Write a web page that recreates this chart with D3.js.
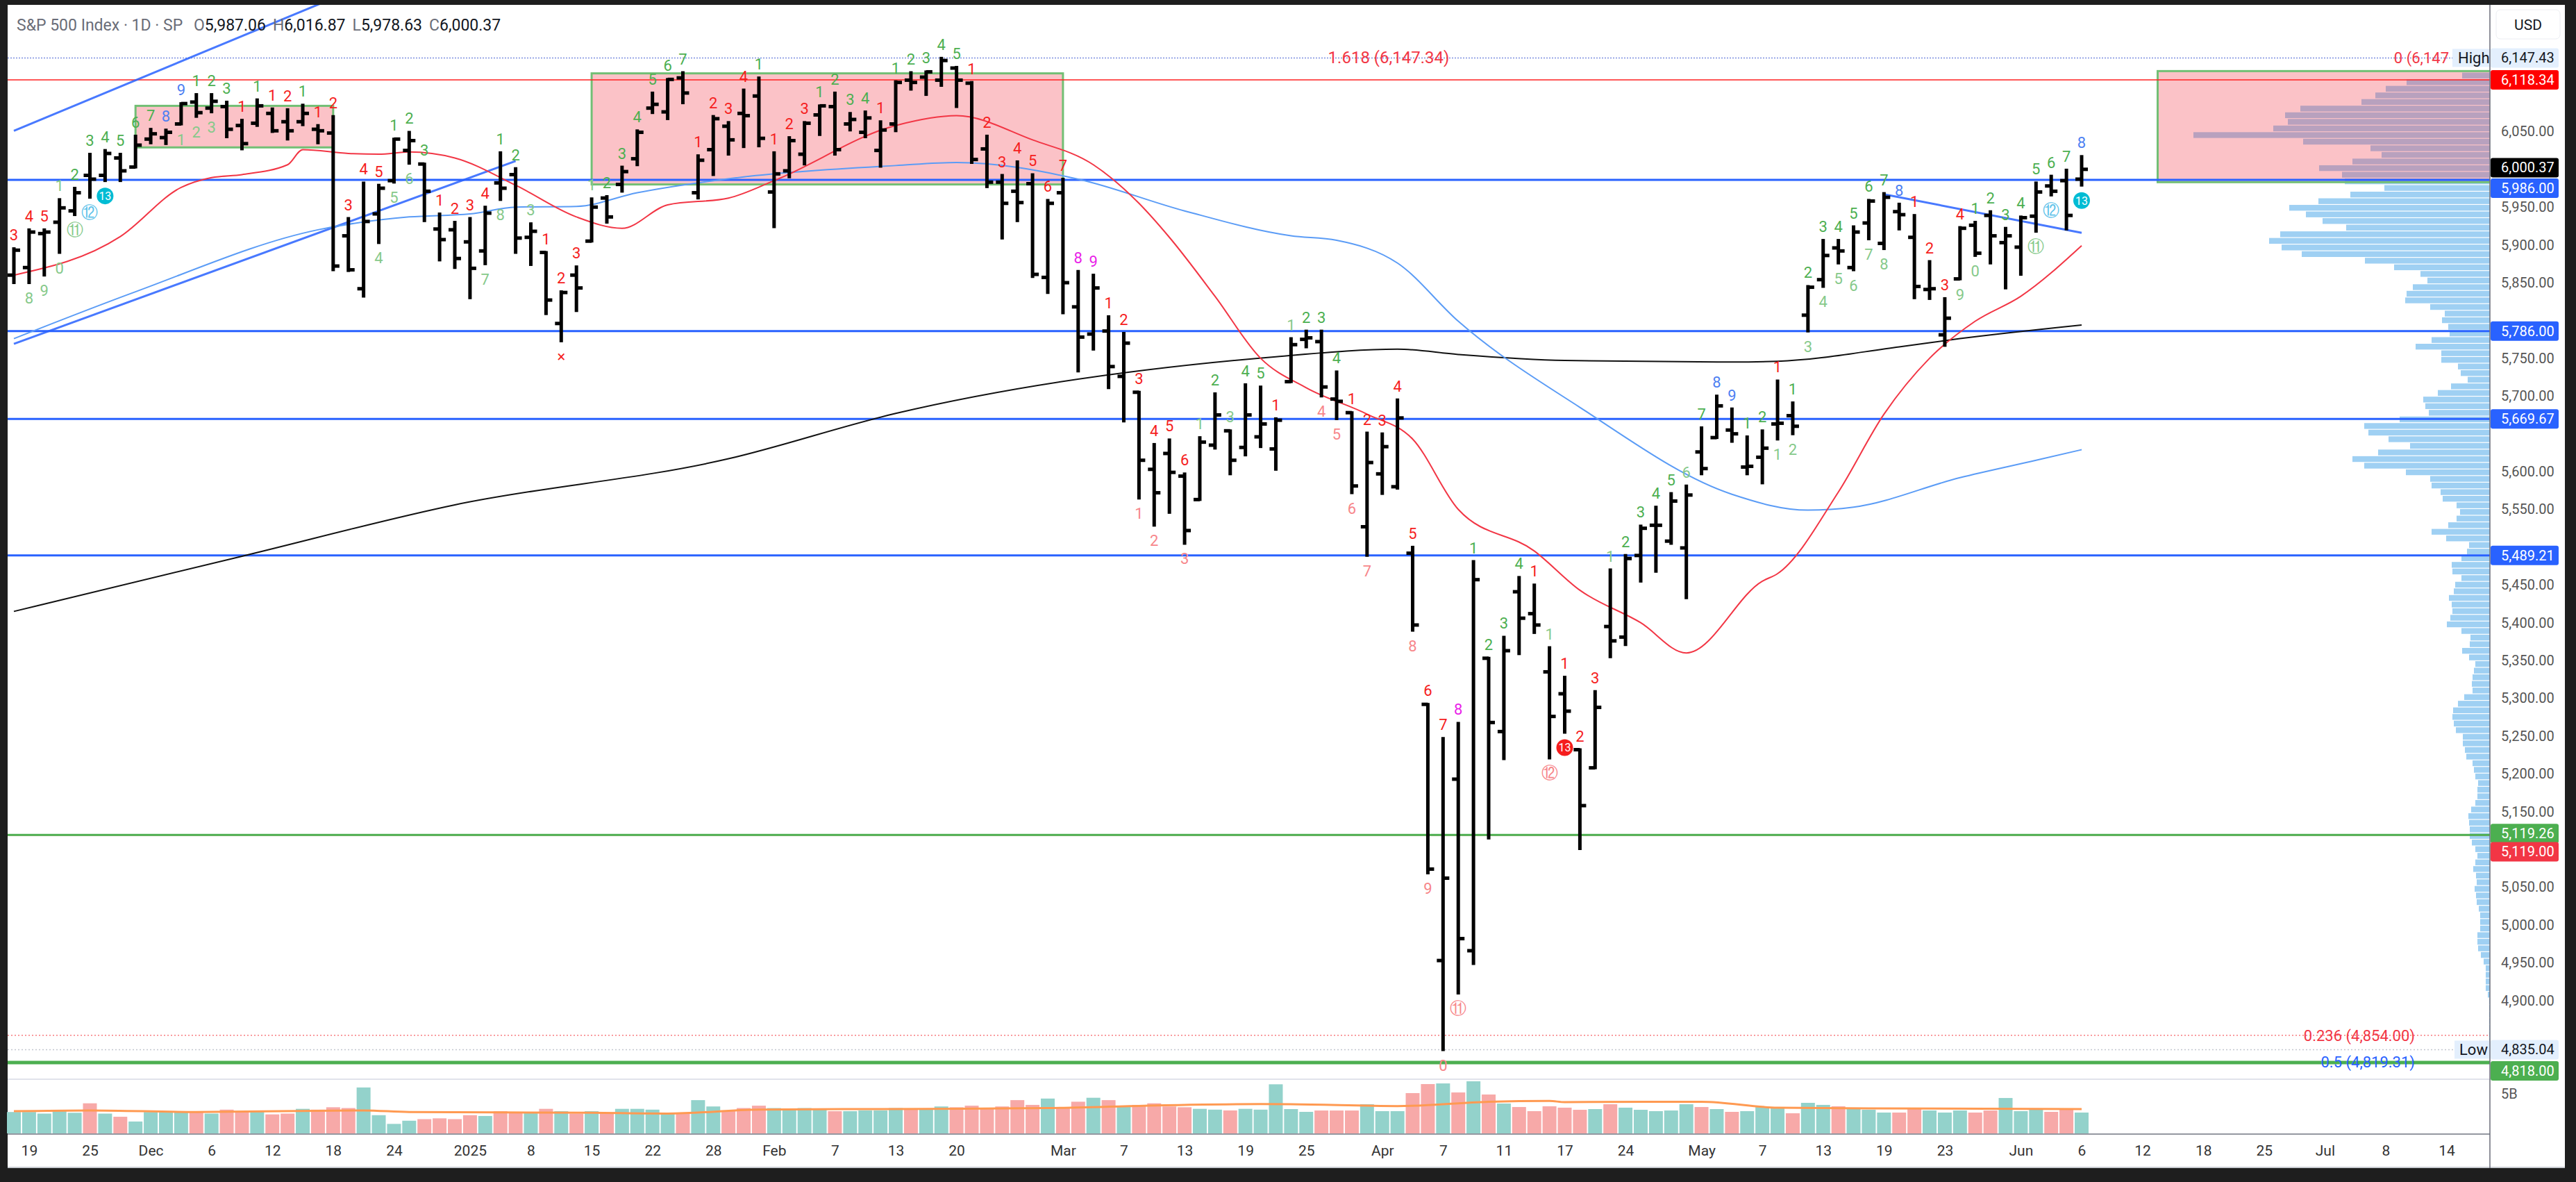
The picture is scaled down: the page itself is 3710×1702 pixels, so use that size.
<!doctype html>
<html lang="en">
<head>
<meta charset="utf-8">
<title>S&amp;P 500 Index · 1D</title>
<style>
  html, body { margin: 0; padding: 0; background: #1e1e1e; }
  svg { display: block; }
  text { font-family: Roboto, "Noto Sans", sans-serif; }
</style>
</head>
<body>
<script src="https://cdn.jsdelivr.net/npm/d3@7"></script>
<script>

// ---- data ----
var tradeDays = {
  "2024-11": [18,19,20,21,22,25,26,27,29],
  "2024-12": [2,3,4,5,6,9,10,11,12,13,16,17,18,19,20,23,24,26,27,30,31],
  "2025-01": [2,3,6,7,8,10,13,14,15,16,17,21,22,23,24,27,28,29,30,31],
  "2025-02": [3,4,5,6,7,10,11,12,13,14,18,19,20,21,24,25,26,27,28],
  "2025-03": [3,4,5,6,7,10,11,12,13,14,17,18,19,20,21,24,25,26,27,28,31],
  "2025-04": [1,2,3,4,7,8,9,10,11,14,15,16,17,21,22,23,24,25,28,29,30],
  "2025-05": [1,2,5,6,7,8,9,12,13,14,15,16,19,20,21,22,23,27,28,29,30],
  "2025-06": [2,3,4,5,6]
};
var futureDays = {
  "2025-06": [9,10,11,12,13,16,17,18,20,23,24,25,26,27,30],
  "2025-07": [1,2,3,7,8,9,10,11,14,15,16,17,18,21,22,23,24,25]
};

var opens = [
  5860,5870,5915,5930,5945,5992,5992,6015,6003,
  6040,6042,6060,6089,6081,6083,6058,6061,6074,6063,6063,6053,6048,5912,5842,5941,5985,6025,6007,5921,5920,
  5904,5892,5982,5993,5910,5890,5796,5860,5905,5962,5980,6014,6081,6076,6121,5969,6026,6057,6074,6097,
  5970,5998,6020,6072,6083,6060,6049,6025,6060,6118,6122,6118,6134,6114,6027,5983,5971,5981,5857,
  5969,5818,5782,5786,5726,5705,5603,5624,5594,5563,5635,5654,5632,5646,5630,5719,5775,5772,5696,5678,5527,
  5597,5580,5492,5292,4953,5193,4966,5353,5256,5441,5412,5335,5306,5232,5208,5395,5381,5489,5529,5508,5499,
  5626,5645,5655,5606,5619,5663,5674,5807,5854,5896,5870,5929,5902,5944,5910,5841,5781,5855,5926,5939,5903,
  5897,5938,5978,5985,5987
];
var highs = [
  5895,5920,5920,5960,5975,6020,6025,6020,6044,
  6053,6052,6087,6099,6099,6089,6065,6092,6080,6079,6085,6058,6070,5935,5982,5979,6040,6049,6007,5941,5930,
  5935,5950,6022,6001,5928,5890,5838,5871,5961,5964,6003,6051,6101,6119,6128,6018,6070,6062,6105,6121,
  6022,6042,6062,6084,6101,6074,6076,6063,6116,6128,6129,6147,6135,6115,6044,5992,6010,5993,5959,
  5987,5865,5860,5805,5783,5705,5636,5642,5597,5645,5703,5654,5715,5712,5670,5776,5786,5786,5732,5678,5651,
  5650,5695,5500,5292,5247,5267,5481,5353,5381,5460,5450,5367,5328,5232,5309,5470,5489,5528,5553,5571,5581,
  5658,5700,5683,5646,5654,5720,5691,5845,5906,5906,5924,5959,5968,5954,5939,5878,5829,5923,5930,5944,5922,
  5937,5982,5991,5999,6017
];
var lows = [
  5850,5850,5860,5890,5940,5963,5985,5985,6003,
  6035,6034,6060,6070,6076,6043,6027,6058,6050,6040,6059,6035,5867,5866,5832,5903,5983,6008,5932,5880,5870,
  5830,5875,5960,5890,5874,5809,5773,5813,5905,5930,5971,6006,6075,6067,6088,5962,5993,6020,6030,6031,
  5924,5990,6007,6046,6020,6052,6043,6004,6051,6106,6099,6111,6083,6009,5977,5909,5932,5858,5837,
  5810,5733,5762,5711,5667,5565,5529,5546,5505,5563,5631,5597,5622,5633,5603,5719,5765,5700,5670,5572,5489,
  5571,5578,5390,5069,4835,4910,4949,5115,5220,5359,5387,5221,5255,5101,5208,5355,5371,5455,5468,5505,5433,
  5597,5645,5640,5597,5585,5643,5650,5786,5845,5876,5867,5908,5895,5921,5830,5829,5767,5855,5886,5876,5843,
  5861,5918,5966,5921,5979
];
var closes = [
  5893,5917,5917,5949,5969,5987,6021,5998,6032,
  6047,6049,6087,6075,6090,6053,6034,6084,6051,6051,6074,6051,5872,5867,5931,5975,6040,6038,5971,5907,5882,
  5869,5942,5975,5909,5918,5827,5837,5843,5950,5937,5997,6049,6086,6119,6101,6012,6067,6039,6071,6041,
  5994,6038,6061,6084,6026,6066,6068,6052,6115,6115,6129,6144,6118,6013,5983,5955,5956,5861,5955,
  5850,5778,5843,5739,5770,5615,5572,5599,5522,5639,5675,5615,5675,5663,5668,5768,5777,5712,5693,5581,5612,
  5633,5671,5397,5074,5062,4982,5457,5268,5363,5406,5397,5276,5283,5158,5288,5376,5485,5525,5529,5561,5569,
  5604,5687,5650,5607,5631,5664,5660,5844,5886,5892,5917,5958,5963,5940,5845,5842,5803,5922,5889,5912,5912,
  5936,5970,5971,5939,6000
];
// volume, billions
var volumes = [
  2.7,2.7,2.5,2.9,2.6,3.8,2.5,2.1,1.5,
  2.7,2.7,2.7,2.7,2.5,3.0,2.8,2.8,2.4,2.5,3.1,3.0,3.3,3.2,5.8,2.3,1.2,1.6,1.8,1.9,1.8,
  2.3,2.2,2.8,2.7,2.6,3.1,2.8,2.5,2.8,2.6,3.1,3.1,3.0,2.6,2.5,4.2,3.4,2.9,3.2,3.5,
  3.2,3.1,3.2,3.1,2.8,2.8,2.9,2.9,3.2,3.1,3.1,3.4,3.3,3.5,3.2,3.4,4.2,3.6,4.4,
  3.2,4.0,4.5,4.2,3.4,3.6,3.8,3.4,3.3,3.1,3.0,2.9,3.1,3.0,6.2,3.07,2.72,2.89,2.89,2.89,3.68,
  2.81,2.81,5.09,6.23,6.31,5.17,6.58,4.91,3.77,3.33,2.81,3.42,3.25,2.98,3.07,3.68,3.25,2.98,2.81,2.89,3.68,
  3.33,3.07,2.72,2.81,3.33,3.25,2.54,3.86,3.6,3.42,3.16,2.98,2.63,2.63,3.16,2.89,2.63,2.89,2.63,2.89,4.47,
  2.81,3.07,2.72,3.07,2.63
];
var volumeMA = [
  ["2024-11-18",2.8],["2024-11-25",2.9],["2024-12-05",2.7],["2024-12-20",2.9],["2024-12-26",2.7],
  ["2025-01-15",2.6],["2025-01-23",2.5],["2025-01-31",3.0],["2025-02-18",3.1],["2025-02-28",3.2],
  ["2025-03-13",3.6],["2025-03-20",3.7],["2025-03-24",3.68],["2025-04-02",3.45],["2025-04-10",4.0],
  ["2025-04-16",4.1],["2025-04-17",3.95],["2025-05-01",4.0],["2025-05-08",3.25],["2025-05-16",3.16],
  ["2025-06-06",3.07]
];

// moving averages (knots)
var ma20 = [
  ["2024-11-18",5860],["2024-11-27",5911],["2024-12-04",5976],["2024-12-06",5989],["2024-12-10",5993],
  ["2024-12-13",6006],["2024-12-16",6026],["2024-12-19",6021],["2024-12-23",6020],["2024-12-26",6023],
  ["2024-12-31",6015],["2025-01-07",5979],["2025-01-14",5937],["2025-01-17",5922],["2025-01-23",5953],
  ["2025-01-29",5962],["2025-02-03",5985],["2025-02-13",6058],["2025-02-20",6071],["2025-02-27",6039],
  ["2025-03-05",6006],["2025-03-10",5955],["2025-03-12",5910],["2025-03-17",5832],["2025-03-20",5750],
  ["2025-03-25",5711],["2025-03-31",5676],["2025-04-03",5643],["2025-04-08",5550],["2025-04-15",5495],
  ["2025-04-21",5443],["2025-04-25",5400],["2025-04-30",5360],["2025-05-07",5455],["2025-05-08",5465],
  ["2025-05-14",5573],["2025-05-19",5676],["2025-05-22",5750],["2025-05-28",5799],["2025-06-02",5832],
  ["2025-06-06",5899]
];
var ma50 = [
  ["2024-11-18",5776],["2024-11-29",5838],["2024-12-17",5920],["2024-12-26",5937],["2025-01-02",5941],
  ["2025-01-07",5950],["2025-01-14",5951],["2025-01-21",5969],["2025-01-30",5990],["2025-02-13",6005],
  ["2025-02-20",6009],["2025-03-04",5987],["2025-03-13",5945],["2025-03-24",5912],["2025-03-27",5906],
  ["2025-04-02",5876],["2025-04-08",5799],["2025-04-21",5685],["2025-05-05",5570],["2025-05-12",5549],
  ["2025-05-15",5553],["2025-05-27",5592],["2025-06-03",5615],["2025-06-06",5629]
];
var ma200 = [
  ["2024-11-18",5415],["2024-12-10",5488],["2024-12-31",5556],["2025-01-29",5617],["2025-02-13",5677],
  ["2025-03-21",5752],["2025-04-02",5762],["2025-04-08",5755],["2025-04-17",5747],["2025-05-05",5745],
  ["2025-05-08",5746],["2025-05-20",5765],["2025-05-27",5776],["2025-06-06",5794]
];

// TD sequential counts per bar, above / below ("" = none); last char = colour
var tdUp = [
  "3R","4R","5R","1g","2G","3G","4G","5G","6G",
  "7G","8B","9B","1G","2G","3G","1R","1G","1R","2R","1G","1R","2R","3R","4R","5R","1G","2G","3G","1R","2R",
  "3R","4R","1G","2G","3g","1R","2R","3R","1g","2G","3G","4G","5G","6G","7G","1R","2R","3R","4R","1G",
  "1R","2R","3R","1G","2G","3G","4G","1R","1G","2G","3G","4G","5G","1R","2R","3R","4R","5R","6R",
  "7R","8M","9M","1R","2R","3R","4R","5R","6R","1g","2G","3g","4G","5G","1R","1g","2G","3G","4G","1R","2R",
  "3R","4R","5R","6R","7R","8M","1G","2G","3G","4G","1R","1g","1R","2R","3R","1g","2G","3G","4G","5G","6g",
  "7G","8B","9B","1G","2G","1R","1G","2G","3G","4G","5G","6G","7G","8B","1R","2R","3R","4R","1G","2G","3G",
  "4G","5G","6G","7G","8B"
];
var tdDown = [
  "","8g","9g","0g","11g","12b","13C","","",
  "","","1g","2g","3g","","","","","","","","","","","4g","5g","6g","","","",
  "","7g","8g","","","","xR","","","","","","","","","","","","","",
  "","","","","","","","","","","","","","","","","","","",
  "","","","","","1r","2r","","3r","","","","","","","","","4r","5r","6r","7r",
  "","","8r","9r","0r","11r","","","","","","12r","13F","","","","","","","","",
  "","","","","","1g","2g","3g","4g","5g","6g","7g","8g","","","","","9g","0g","","",
  "","11g","12b","","13C"
];

// horizontal levels (drawn in this order)
var levelValues = [5119, 5986, 5786, 5669.67, 5489.21, 5119.26, 4818, 6118.34, 6147.43, 4854, 4835.04];
var levelKinds  = ["red","blue","blue","blue","blue","green","greenThick","red","fibDot","redDot","grayDot"];

// trend lines [date1, price1, date2, price2]
var trendLines = [
  ["2024-11-18",5769,"2025-01-07",6011],
  ["2024-11-18",6051,"2024-12-20",6243],
  ["2025-05-19",5967,"2025-06-06",5916]
];
// zones [from, to, top, bottom]
var zones = [
  ["2024-11-29","2024-12-18",6084,6029],
  ["2025-01-15","2025-03-03",6127,5980]
];
var zoneRight = ["2025-06-13","2025-07-25",6130,5983];

// volume profile rows, from the top down
var profileTop = 6124, profileStep = 8.75;
var profileWidths = [
  40,120,150,165,185,
  273,295,291,312,427,269,172,156,198,246,213,209,152,201,247,289,265,241,207,302,
  318,300,271,180,138,100,90,111,120,122,86,65,69,60,58,84,107,70,70,46,42,32,56,75,96,
  93,88,130,181,175,146,115,161,198,181,121,86,84,71,68,48,43,48,60,84,63,30,33,41,55,54,41,50,
  52,59,55,54,57,62,41,28,29,40,30,21,23,25,26,25,37,46,53,54,52,49,39,39,36,34,25,23,21,17,
  18,18,21,27,31,30,29,29,26,21,18,21,24,20,19,22,20,19,16,14,14,14,18,18,17,13,9,6,6,6,6,3,
  1,1,1,1,1,1,1,1
];

// axis
var priceTicks = d3.range(4850, 6101, 50);
var dateTickDays = ["2024-11-19","2024-11-25","2024-12-02","2024-12-06","2024-12-12","2024-12-18","2024-12-24",
  "2025-01-02","2025-01-08","2025-01-15","2025-01-22","2025-01-28","2025-02-03","2025-02-07","2025-02-13","2025-02-20",
  "2025-03-03","2025-03-07","2025-03-13","2025-03-19","2025-03-25","2025-04-01","2025-04-07","2025-04-11","2025-04-17",
  "2025-04-24","2025-05-01","2025-05-07","2025-05-13","2025-05-19","2025-05-23","2025-06-02","2025-06-06",
  "2025-06-12","2025-06-18","2025-06-25","2025-07-01","2025-07-08","2025-07-14"];
var dateTickLabels = ["19","25","Dec","6","12","18","24","2025","8","15","22","28","Feb","7","13","20",
  "Mar","7","13","19","25","Apr","7","11","17","24","May","7","13","19","23","Jun","6","12","18","25","Jul","8","14"];

var axisMarkValues = [6147.43, 6118.34, 6000.37, 5986, 5786, 5669.67, 5489.21, 5119.26, 5119, 4835.04, 4818];
var axisMarkKinds  = ["light","red","black","blue","blue","blue","blue","green","red","light","green"];
var axisMarkNudge  = [0, 0, -2, 12, 0, 0, 0, -2, 24, 0, 12];

// ---- layout ----
var W = 3710, H = 1702;
var plot = {left: 11, right: 3586, top: 7, bottom: 1552};
var vol = {top: 1556, bottom: 1632};

function flatten(obj) {
  var out = [];
  Object.keys(obj).forEach(function(m) {
    obj[m].forEach(function(d) { out.push(m + "-" + (d < 10 ? "0" + d : d)); });
  });
  return out;
}
var days = flatten(tradeDays);
var allDays = days.concat(flatten(futureDays));
var idx = {};
allDays.forEach(function(d, i) { idx[d] = i; });

var bars = days.map(function(d, i) {
  return {date: d, i: i, o: opens[i], h: highs[i], l: lows[i], c: closes[i], v: volumes[i]};
});

var x = d3.scaleLinear().domain([0, days.length - 1]).range([20, 2998]);
var y = d3.scaleLinear().domain([4818, 6100]).range([1530, 135]);
var yv = d3.scaleLinear().domain([0, 5]).range([vol.bottom, 1575]);

var colors = {R: "#f51d1d", r: "#f7868a", G: "#4caf50", g: "#86c98a", B: "#4d7ff2", M: "#e91ee8", b: "#5fc3ea", C: "#00bcd4", F: "#f51d1d"};

var svg = d3.select("body").append("svg").attr("width", W).attr("height", H);
svg.append("rect").attr("x", 0).attr("y", 0).attr("width", W).attr("height", H).attr("fill", "#1e1e1e");
svg.append("rect").attr("x", plot.left).attr("y", plot.top).attr("width", 3694 - plot.left).attr("height", 1682 - plot.top).attr("fill", "#fff");

svg.append("defs").append("clipPath").attr("id", "clip")
  .append("rect").attr("x", plot.left).attr("y", plot.top).attr("width", plot.right - plot.left).attr("height", plot.bottom - plot.top);

var g = svg.append("g").attr("clip-path", "url(#clip)");

// zones
g.selectAll(".zone").data(zones).enter().append("rect")
  .attr("x", function(d) { return x(idx[d[0]]); })
  .attr("y", function(d) { return y(d[2]); })
  .attr("width", function(d) { return x(idx[d[1]]) - x(idx[d[0]]); })
  .attr("height", function(d) { return y(d[3]) - y(d[2]); })
  .attr("fill", "rgba(242,54,69,0.3)").attr("stroke", "#72bf75").attr("stroke-width", 3);

// volume profile
var pw = d3.scaleLinear().domain([0, 427]).range([0, 427]);
g.selectAll(".prof").data(profileWidths).enter().append("rect")
  .attr("x", function(d) { return plot.right - pw(d); })
  .attr("y", function(d, i) { return y(profileTop - i * profileStep + profileStep / 2) + 0.5; })
  .attr("width", function(d) { return pw(d); })
  .attr("height", function() { return y(0) - y(profileStep) - 1.2; })
  .attr("fill", "#9fd0f3");

g.append("rect")
  .attr("x", x(idx[zoneRight[0]])).attr("y", y(zoneRight[2]))
  .attr("width", x(idx[zoneRight[1]]) - x(idx[zoneRight[0]]))
  .attr("height", y(zoneRight[3]) - y(zoneRight[2]))
  .attr("fill", "rgba(242,54,69,0.3)").attr("stroke", "#72bf75").attr("stroke-width", 3);

// levels
var levelStyle = {
  blue: {c: "#2962ff", w: 3}, green: {c: "#4caf50", w: 3}, red: {c: "#ff2020", w: 1.5},
  greenThick: {c: "#4caf50", w: 5}, fibDot: {c: "#7d8fe0", w: 1.5, dash: "2,2"},
  redDot: {c: "#f77c80", w: 1.5, dash: "2,3"}, grayDot: {c: "#c3c6cf", w: 1.5, dash: "2,3"}
};
levelValues.forEach(function(v, i) {
  var s = levelStyle[levelKinds[i]];
  g.append("line").attr("x1", plot.left).attr("x2", plot.right)
    .attr("y1", y(v)).attr("y2", y(v))
    .attr("stroke", s.c).attr("stroke-width", s.w).attr("stroke-dasharray", s.dash || null);
});

// trend lines
g.selectAll(".trend").data(trendLines).enter().append("line")
  .attr("x1", function(d) { return x(idx[d[0]]); }).attr("y1", function(d) { return y(d[1]); })
  .attr("x2", function(d) { return x(idx[d[2]]); }).attr("y2", function(d) { return y(d[3]); })
  .attr("stroke", "#2962ff").attr("stroke-width", 3).attr("opacity", 0.85);

// moving averages
function maLine(data, color, w) {
  var line = d3.line().curve(d3.curveMonotoneX)
    .x(function(d) { return x(idx[d[0]]); }).y(function(d) { return y(d[1]); });
  g.append("path").datum(data).attr("d", line).attr("fill", "none").attr("stroke", color).attr("stroke-width", w);
}
maLine(ma200, "#111", 2);
maLine(ma50, "#5b9cf6", 2);
maLine(ma20, "#f23645", 2);

// OHLC bars
var bg = g.append("g").attr("stroke", "#000").attr("stroke-width", 5);
bars.forEach(function(b) {
  var cx = x(b.i);
  bg.append("line").attr("x1", cx).attr("x2", cx).attr("y1", y(b.h) - 2).attr("y2", y(b.l) + 2);
  bg.append("line").attr("x1", cx - 9).attr("x2", cx).attr("y1", y(b.o)).attr("y2", y(b.o));
  bg.append("line").attr("x1", cx).attr("x2", cx + 9).attr("y1", y(b.c)).attr("y2", y(b.c));
});

// TD counts
var circled = {"11": "\u246A", "12": "\u246B"};
function tdLabel(tok, b, above) {
  if (!tok) return;
  var col = colors[tok.slice(-1)], txt = tok.slice(0, -1);
  var cx = x(b.i);
  var ty = above ? y(b.h) - 12 : y(b.l) + 30;
  if (txt === "13") {
    g.append("circle").attr("cx", cx).attr("cy", ty - 8).attr("r", 12).attr("fill", col);
    g.append("text").attr("x", cx).attr("y", ty - 2).attr("text-anchor", "middle")
      .attr("font-size", 16).attr("fill", "#fff").text("13");
    return;
  }
  var isCircled = !!circled[txt];
  if (isCircled) txt = circled[txt];
  if (txt === "x") txt = "\u00d7";
  g.append("text").attr("x", cx).attr("y", ty).attr("text-anchor", "middle")
    .attr("font-size", isCircled ? 24 : 22)
    .style("font-family", isCircled ? "DejaVu Sans" : null)
    .attr("fill", col).text(txt);
}
bars.forEach(function(b) {
  tdLabel(tdUp[b.i], b, true);
  tdLabel(tdDown[b.i], b, false);
});

// fib / level texts
g.append("text").attr("x", 2000).attr("y", y(6147.43) + 8).attr("text-anchor", "middle")
  .attr("font-size", 24).attr("fill", "#f23645").text("1.618 (6,147.34)");
g.append("text").attr("x", 3527).attr("y", y(6147.43) + 8).attr("text-anchor", "end")
  .attr("font-size", 22).attr("fill", "#f23645").text("0 (6,147");
g.append("rect").attr("x", 3532).attr("y", y(6147.43) - 13).attr("width", 54).attr("height", 26).attr("fill", "#e3effd");
g.append("text").attr("x", 3540).attr("y", y(6147.43) + 8).attr("font-size", 22).attr("fill", "#131722").text("High");
g.append("text").attr("x", 3478).attr("y", y(4854) + 8).attr("text-anchor", "end")
  .attr("font-size", 22).attr("fill", "#f23645").text("0.236 (4,854.00)");
g.append("text").attr("x", 3478).attr("y", y(4819.31) + 8).attr("text-anchor", "end")
  .attr("font-size", 22).attr("fill", "#2962ff").text("0.5 (4,819.31)");
g.append("rect").attr("x", 3535).attr("y", y(4835.04) - 13).attr("width", 51).attr("height", 26).attr("fill", "#e3effd");
g.append("text").attr("x", 3542).attr("y", y(4835.04) + 8).attr("font-size", 22).attr("fill", "#131722").text("Low");

// header
var hdr = svg.append("text").attr("x", 24).attr("y", 44).attr("font-size", 23);
hdr.append("tspan").attr("fill", "#6a6d78").text("S&P 500 Index \u00b7 1D \u00b7 SP  ");
[["O", "5,987.06"], ["H", "6,016.87"], ["L", "5,978.63"], ["C", "6,000.37"]].forEach(function(p) {
  hdr.append("tspan").attr("fill", "#6a6d78").attr("dx", 10).text(p[0]);
  hdr.append("tspan").attr("fill", "#131722").text(p[1]);
});

// volume pane
svg.append("line").attr("x1", plot.left).attr("x2", plot.right).attr("y1", vol.top - 2).attr("y2", vol.top - 2)
  .attr("stroke", "#e0e3eb").attr("stroke-width", 2);
svg.selectAll(".vbar").data(bars).enter().append("rect")
  .attr("x", function(d) { return x(d.i) - 10; })
  .attr("y", function(d) { return yv(d.v); })
  .attr("width", 20)
  .attr("height", function(d) { return vol.bottom - yv(d.v); })
  .attr("fill", function(d) { return d.c >= d.o ? "#93d2cb" : "#f7a9a8"; });
svg.append("path").datum(volumeMA)
  .attr("d", d3.line().curve(d3.curveMonotoneX).x(function(d) { return x(idx[d[0]]); }).y(function(d) { return yv(d[1]); }))
  .attr("fill", "none").attr("stroke", "#ff9a52").attr("stroke-width", 3);

// x axis
svg.append("line").attr("x1", plot.left).attr("x2", plot.right).attr("y1", 1633).attr("y2", 1633)
  .attr("stroke", "#9598a1").attr("stroke-width", 2);
var tickIdx = dateTickDays.map(function(d) { return idx[d]; });
var xAxis = d3.axisBottom(x).tickValues(tickIdx).tickSize(0)
  .tickFormat(function(d) { return dateTickLabels[tickIdx.indexOf(d)]; });
var xa = svg.append("g").attr("transform", "translate(0,1646)").call(xAxis);
xa.select(".domain").remove();
xa.selectAll("text").attr("font-size", 21).attr("fill", "#333").style("font-family", "Roboto");
svg.append("line").attr("x1", plot.left).attr("x2", 3694).attr("y1", 1681).attr("y2", 1681)
  .attr("stroke", "#c9cbd1").attr("stroke-width", 2);

// price axis (hide ticks hidden behind a marker box)
svg.append("line").attr("x1", plot.right).attr("x2", plot.right).attr("y1", plot.top).attr("y2", 1682)
  .attr("stroke", "#6a6d78").attr("stroke-width", 1.5);
var fmt = d3.format(",.2f");
var markYs = axisMarkValues.map(function(v, i) { return y(v) + axisMarkNudge[i]; });
var visibleTicks = priceTicks.filter(function(t) {
  return markYs.every(function(my) { return Math.abs(y(t) - my) > 24; });
});
var yAxis = d3.axisRight(y).tickValues(visibleTicks).tickSize(0).tickPadding(16).tickFormat(fmt);
var ya = svg.append("g").attr("transform", "translate(" + plot.right + ",0)").call(yAxis);
ya.select(".domain").remove();
ya.selectAll("text").attr("font-size", 20).attr("fill", "#555").style("font-family", "Roboto");
svg.append("text").attr("x", plot.right + 16).attr("y", yv(5) + 7).attr("font-size", 20).attr("fill", "#555").text("5B");

svg.append("rect").attr("x", 3595).attr("y", 14).attr("width", 92).attr("height", 42).attr("rx", 6)
  .attr("fill", "#fff").attr("stroke", "#eceef2");
svg.append("text").attr("x", 3641).attr("y", 43).attr("text-anchor", "middle").attr("font-size", 21).attr("fill", "#131722").text("USD");

var markStyle = {
  light: {bg: "#e3effd", fg: "#131722"}, red: {bg: "#f23645", fg: "#fff"}, black: {bg: "#000", fg: "#fff"},
  blue: {bg: "#2962ff", fg: "#fff"}, green: {bg: "#4caf50", fg: "#fff"}
};
axisMarkValues.forEach(function(v, i) {
  var s = markStyle[axisMarkKinds[i]];
  if (axisMarkKinds[i] === "red" && v > 6000) s = {bg: "#ff0000", fg: "#fff"};
  var cy = markYs[i];
  svg.append("rect").attr("x", plot.right + 1).attr("y", cy - 14).attr("width", 98).attr("height", 28)
    .attr("rx", 3).attr("fill", s.bg);
  svg.append("text").attr("x", plot.right + 16).attr("y", cy + 7).attr("font-size", 20)
    .attr("fill", s.fg).text(fmt(v));
});

</script>
</body>
</html>
